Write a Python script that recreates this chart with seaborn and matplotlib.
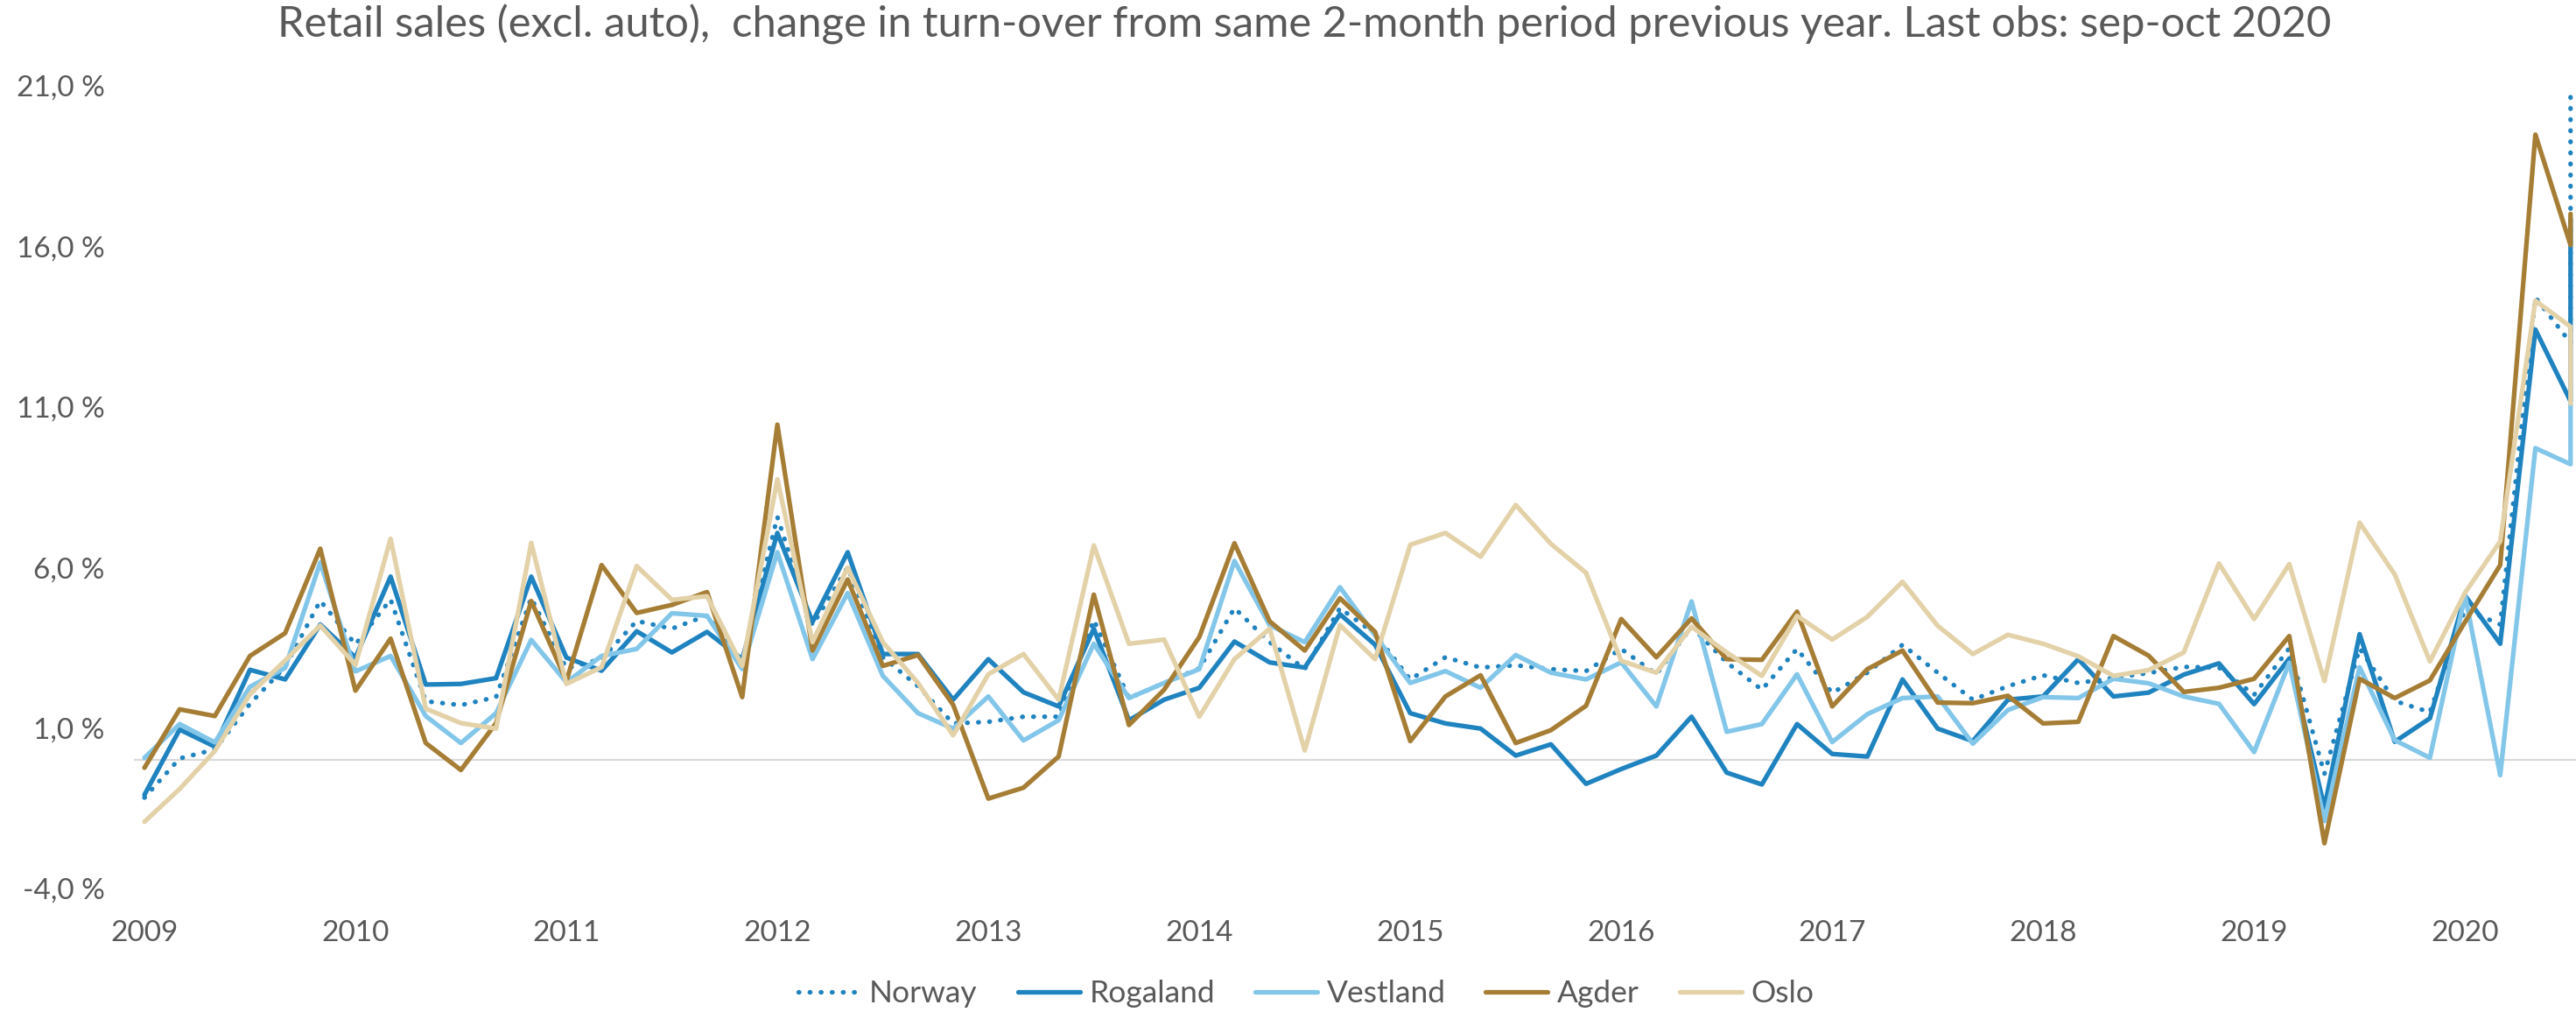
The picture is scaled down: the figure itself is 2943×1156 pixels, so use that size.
import numpy as np
import pandas as pd
import matplotlib
matplotlib.use("Agg")
import matplotlib.pyplot as plt
import seaborn as sns

# ---- data: % change in turnover vs. same 2-month period previous year ----
months = ["jan-feb", "mar-apr", "may-jun", "jul-aug", "sep-oct", "nov-dec"]
all_periods = [f"{m} {y}" for y in range(2009, 2021) for m in months]
periods = all_periods[all_periods.index("mar-apr 2009"):all_periods.index("sep-oct 2020") + 1]
periods.append("sep-oct 2020")  # latest period: preliminary and updated figure

year_labels = [str(y) for y in range(2009, 2021)]
y_ticks = [21, 16, 11, 6, 1, -4]

norway = [-1.17, 0.05, 0.33, 1.75, 2.90, 4.96, 3.60, 5.00, 1.83, 1.71, 1.96, 5.05,
          2.85, 3.15, 4.33, 4.09, 4.50, 3.04, 7.57, 4.20, 6.00, 3.20, 2.30, 1.14,
          1.19, 1.35, 1.35, 4.36, 1.93, 2.40, 2.85, 4.73, 3.67, 2.83, 4.73, 3.93,
          2.51, 3.20, 2.88, 2.95, 2.83, 2.77, 3.46, 2.67, 4.15, 3.04, 2.19, 3.46,
          2.09, 2.72, 3.59, 2.72, 1.88, 2.30, 2.64, 2.40, 2.56, 2.71, 2.90, 2.88,
          2.03, 3.48, -0.43, 3.48, 1.84, 1.49, 4.70, 4.22, 14.40, 12.99, 20.70]
rogaland = [-1.08, 0.95, 0.42, 2.81, 2.51, 4.22, 3.19, 5.71, 2.35, 2.37, 2.55, 5.71,
            3.19, 2.78, 4.01, 3.35, 3.99, 3.14, 7.07, 4.30, 6.47, 3.30, 3.30, 1.88,
            3.14, 2.11, 1.67, 4.09, 1.24, 1.88, 2.25, 3.69, 3.04, 2.88, 4.54, 3.59,
            1.46, 1.14, 0.98, 0.14, 0.49, -0.74, -0.28, 0.14, 1.35, -0.39, -0.76, 1.12,
            0.19, 0.11, 2.51, 0.98, 0.59, 1.88, 1.98, 3.14, 1.98, 2.10, 2.66, 3.01,
            1.74, 3.16, -1.48, 3.92, 0.57, 1.30, 5.12, 3.62, 13.40, 11.17, 16.80]
vestland = [0.07, 1.12, 0.55, 2.28, 2.87, 6.15, 2.76, 3.24, 1.37, 0.53, 1.46, 3.74,
            2.42, 3.24, 3.46, 4.57, 4.49, 2.83, 6.47, 3.14, 5.20, 2.62, 1.46, 0.98,
            1.98, 0.61, 1.24, 3.62, 1.93, 2.40, 2.83, 6.20, 4.20, 3.67, 5.38, 3.88,
            2.40, 2.77, 2.25, 3.27, 2.72, 2.51, 3.04, 1.67, 4.94, 0.88, 1.12, 2.67,
            0.56, 1.43, 1.93, 1.98, 0.51, 1.56, 1.96, 1.93, 2.53, 2.39, 1.98, 1.75,
            0.25, 3.03, -1.90, 2.89, 0.62, 0.07, 5.12, -0.47, 9.71, 9.21, 11.10]
agder = [-0.24, 1.58, 1.37, 3.24, 3.95, 6.58, 2.16, 3.78, 0.53, -0.31, 1.15, 4.95,
         2.46, 6.07, 4.58, 4.83, 5.23, 1.96, 10.44, 3.41, 5.62, 2.93, 3.27, 1.72,
         -1.20, -0.86, 0.11, 5.15, 1.09, 2.19, 3.83, 6.75, 4.32, 3.41, 5.04, 3.99,
         0.59, 1.98, 2.64, 0.53, 0.93, 1.69, 4.39, 3.20, 4.41, 3.14, 3.12, 4.62,
         1.67, 2.83, 3.41, 1.79, 1.77, 2.00, 1.14, 1.19, 3.86, 3.25, 2.12, 2.25,
         2.53, 3.86, -2.59, 2.53, 1.93, 2.48, 4.30, 6.07, 19.47, 16.03, 17.00]
oslo = [-1.92, -0.90, 0.28, 2.05, 3.10, 4.19, 2.96, 6.89, 1.60, 1.15, 0.98, 6.76,
        2.37, 2.89, 6.04, 4.99, 5.10, 2.93, 8.74, 3.67, 5.99, 3.67, 2.40, 0.77,
        2.67, 3.30, 1.88, 6.68, 3.62, 3.75, 1.35, 3.14, 4.09, 0.30, 4.20, 3.14,
        6.70, 7.07, 6.33, 7.94, 6.73, 5.83, 3.09, 2.72, 4.15, 3.35, 2.62, 4.49,
        3.75, 4.46, 5.55, 4.18, 3.30, 3.90, 3.62, 3.23, 2.62, 2.80, 3.35, 6.12,
        4.39, 6.10, 2.46, 7.39, 5.78, 3.07, 5.21, 6.81, 14.30, 13.49, 11.10]

regions = ["Norway", "Rogaland", "Vestland", "Agder", "Oslo"]
values = [norway, rogaland, vestland, agder, oslo]

df = pd.concat(
    [pd.DataFrame({"period": periods, "region": r, "value": v}) for r, v in zip(regions, values)],
    ignore_index=True,
)
df["pos"] = pd.factorize(df["period"])[0]

# ---- styling ----
sns.set_theme(style="white")
plt.rcParams["font.family"] = ["Lato", "DejaVu Sans"]
text_color = "#595959"

colors = {
    "Norway": "#1f83c0",
    "Rogaland": "#1f83c0",
    "Vestland": "#82c6e9",
    "Agder": "#a67d34",
    "Oslo": "#e3d1a8",
}

W, H = 2943, 1156
fig = plt.figure(figsize=(W / 100, H / 100), dpi=100)
ax = fig.add_axes([153 / W, 1 - 1015 / H, 1 - 153 / W, (1015 - 97.6) / H])

ax.axhline(0, color="#d9d9d9", lw=1.6, zorder=0)

lw = 3.8
for r in regions:
    sub = df[df["region"] == r]
    kw = dict(linewidth=lw)
    if r == "Norway":
        kw.update(linestyle=(0, (0.1, 2.3)), dash_capstyle="round")
    sns.lineplot(data=sub, x="pos", y="value", color=colors[r], estimator=None,
                 sort=False, ax=ax, label=r, **kw)

n_pos = df["pos"].max()
ax.set_xlim(-0.3, n_pos + 0.155)
ax.set_ylim(-4, 21)

ax.set_xticks(range(0, n_pos + 1, 6))
ax.set_xticklabels(year_labels)
ax.set_yticks(y_ticks)
ax.set_yticklabels([f"{t:.1f}".replace(".", ",") + " %" for t in y_ticks])
ax.tick_params(axis="y", length=0, pad=24, labelsize=24, labelcolor=text_color)
ax.tick_params(axis="x", length=0, pad=26, labelsize=24, labelcolor=text_color)
ax.set_xlabel("")
ax.set_ylabel("")
for s in ax.spines.values():
    s.set_visible(False)
ax.grid(False)

handles, labels = ax.get_legend_handles_labels()
ax.get_legend().remove()
fig.legend(handles, labels, loc="center", bbox_to_anchor=(1492 / W, 1 - 1135 / H),
           ncol=5, frameon=False, fontsize=25.5, labelcolor=text_color,
           handlelength=2.0, handletextpad=0.3, columnspacing=1.3)

fig.text(1490 / W, 1 - 28 / H,
         "Retail sales (excl. auto),  change in turn-over from same 2-month period previous year. Last obs: sep-oct 2020",
         ha="center", va="center", fontsize=35.3, color=text_color)

fig.savefig("out.png", dpi=100, facecolor="white")
